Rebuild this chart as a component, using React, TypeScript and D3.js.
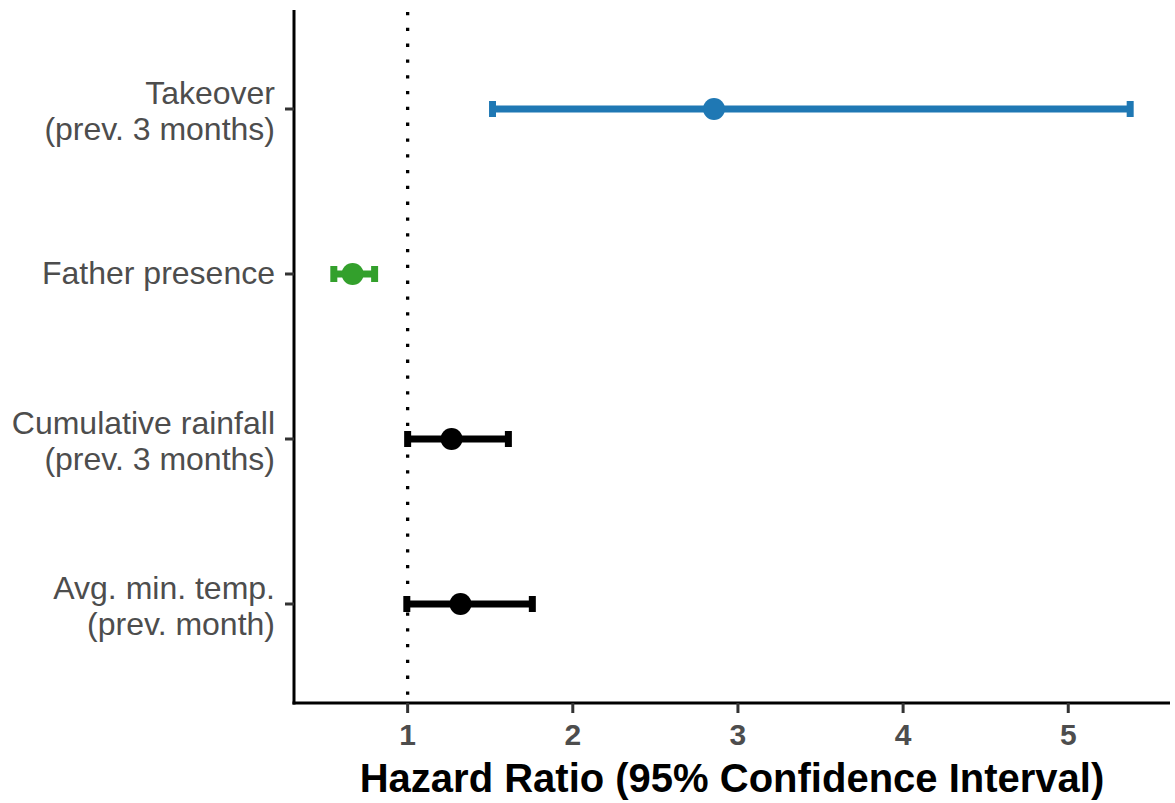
import React, { useEffect, useRef } from "react";
import * as d3 from "d3";

// Model terms (top to bottom) with hazard ratios and 95% CI bounds
const terms = [
  "Takeover\n(prev. 3 months)",
  "Father presence",
  "Cumulative rainfall\n(prev. 3 months)",
  "Avg. min. temp.\n(prev. month)",
];
const hazardRatio = [2.855, 0.667, 1.266, 1.32];
const ciLower = [1.514, 0.553, 1.0, 0.995];
const ciUpper = [5.375, 0.8, 1.61, 1.755];
const termColor = ["#1f78b4", "#33a02c", "#000000", "#000000"];
const xTicks = [1, 2, 3, 4, 5];
const refLine = 1;
const xTitle = "Hazard Ratio (95% Confidence Interval)";

const W = 1175;
const H = 803;
const FONT = "'Liberation Sans', Arial, Helvetica, sans-serif";

export default function App() {
  const ref = useRef<SVGSVGElement>(null);

  useEffect(() => {
    const svg = d3.select(ref.current);
    svg.selectAll("*").remove();

    const left = 294;
    const right = 1170;
    const top = 10;
    const bottom = 703;

    const lo = d3.min(ciLower) as number;
    const hi = d3.max(ciUpper) as number;
    const pad = (hi - lo) * 0.05;
    const x = d3.scaleLinear().domain([lo - pad, hi + pad]).range([left, right]);
    const y = d3.scalePoint<string>().domain(terms).range([top, bottom]).padding(0.6);

    // reference line at HR = 1
    svg
      .append("line")
      .attr("x1", x(refLine))
      .attr("x2", x(refLine))
      .attr("y1", top + 2)
      .attr("y2", bottom)
      .attr("stroke", "#000")
      .attr("stroke-width", 3.3)
      .attr("stroke-dasharray", "3.3 12.5");

    // confidence intervals
    const g = svg.append("g");
    terms.forEach((t, i) => {
      const cy = y(t) as number;
      const col = termColor[i];
      g.append("line")
        .attr("x1", x(ciLower[i]))
        .attr("x2", x(ciUpper[i]))
        .attr("y1", cy)
        .attr("y2", cy)
        .attr("stroke", col)
        .attr("stroke-width", 7);
      [ciLower[i], ciUpper[i]].forEach((v) => {
        g.append("line")
          .attr("x1", x(v))
          .attr("x2", x(v))
          .attr("y1", cy - 8)
          .attr("y2", cy + 8)
          .attr("stroke", col)
          .attr("stroke-width", 7);
      });
      g.append("circle")
        .attr("cx", x(hazardRatio[i]))
        .attr("cy", cy)
        .attr("r", 11)
        .attr("fill", col);
    });

    // y axis
    svg
      .append("line")
      .attr("x1", left)
      .attr("x2", left)
      .attr("y1", top)
      .attr("y2", bottom + 1.5)
      .attr("stroke", "#000")
      .attr("stroke-width", 3);
    terms.forEach((t) => {
      const cy = y(t) as number;
      svg
        .append("line")
        .attr("x1", left - 9)
        .attr("x2", left)
        .attr("y1", cy)
        .attr("y2", cy)
        .attr("stroke", "#333")
        .attr("stroke-width", 3);
      const lines = t.split("\n");
      const text = svg
        .append("text")
        .attr("x", 275)
        .attr("text-anchor", "end")
        .attr("font-family", FONT)
        .attr("font-size", 32)
        .attr("fill", "#4d4d4d");
      if (lines.length === 1) {
        text.attr("y", cy + 10).text(lines[0]);
      } else {
        lines.forEach((l, k) => {
          text
            .append("tspan")
            .attr("x", 275)
            .attr("y", cy - 5.5 + k * 36)
            .text(l);
        });
      }
    });

    // x axis
    svg
      .append("line")
      .attr("x1", left - 1.5)
      .attr("x2", right)
      .attr("y1", bottom)
      .attr("y2", bottom)
      .attr("stroke", "#000")
      .attr("stroke-width", 3);
    xTicks.forEach((v) => {
      svg
        .append("line")
        .attr("x1", x(v))
        .attr("x2", x(v))
        .attr("y1", bottom)
        .attr("y2", bottom + 10)
        .attr("stroke", "#333")
        .attr("stroke-width", 3);
      svg
        .append("text")
        .attr("x", x(v))
        .attr("y", 745)
        .attr("text-anchor", "middle")
        .attr("font-family", FONT)
        .attr("font-weight", "bold")
        .attr("font-size", 30)
        .attr("fill", "#4d4d4d")
        .text(d3.format("d")(v));
    });

    svg
      .append("text")
      .attr("x", (left + right) / 2)
      .attr("y", 792)
      .attr("text-anchor", "middle")
      .attr("font-family", FONT)
      .attr("font-weight", "bold")
      .attr("font-size", 40)
      .attr("fill", "#000")
      .text(xTitle);
  }, []);

  return (
    <svg
      ref={ref}
      width={W}
      height={H}
      style={{ position: "absolute", left: 0, top: 0, background: "#fff" }}
    />
  );
}
